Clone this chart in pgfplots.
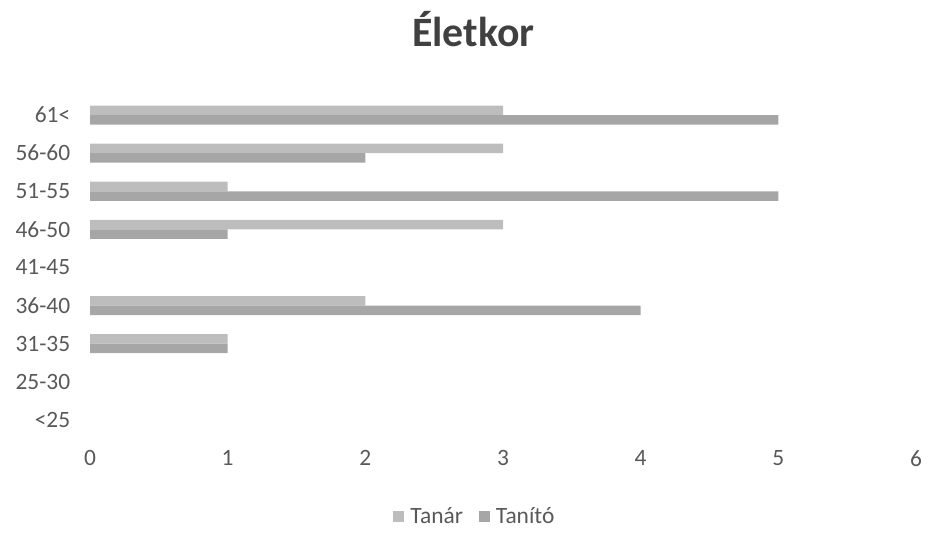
\documentclass[border=0pt]{standalone}
\usepackage{fontspec}
\setmainfont{Carlito}
\usepackage{pgfplots}
\pgfplotsset{compat=1.18}
\definecolor{tanar}{HTML}{BDBDBD}
\definecolor{tanito}{HTML}{A6A6A6}
\definecolor{lbl}{HTML}{595959}
\definecolor{ttl}{HTML}{404040}
\begin{document}
\begin{tikzpicture}
\path[use as bounding box] (0,0) rectangle (928bp,533bp);
\begin{axis}[
  at={(90bp,94bp)}, anchor=south west,
  scale only axis,
  width=826bp, height=343bp,
  xbar, bar width=0.25,
  xmin=0, xmax=6,
  ymin=-0.5, ymax=8.5,
  xtick={0,1,2,3,4,5,6},
  ytick={0,1,2,3,4,5,6,7,8},
  yticklabels={{<25},{25-30},{31-35},{36-40},{41-45},{46-50},{51-55},{56-60},{61<}},
  axis line style={draw=none},
  tick style={draw=none},
  /pgf/number format/assume math mode=true,
  ticklabel style={font=\fontsize{23.5}{27}\selectfont, text=lbl},
  yticklabel style={xshift=-12bp},
  xticklabel style={yshift=-8bp},
  title={Életkor},
  title style={at={(0.464,1.178)}, anchor=center, font=\bfseries\fontsize{42}{48}\selectfont, text=ttl},
  legend columns=2,
  legend style={at={(0.466,-0.225)}, anchor=center, draw=none,
    font=\fontsize{23.5}{27}\selectfont, text=lbl,
    /tikz/every even column/.append style={column sep=14bp}},
  legend image code/.code={\fill[#1] (0bp,-5.5bp) rectangle (11bp,5.5bp); \path (15bp,0bp);},
]
\addplot[fill=tanar, draw=none, bar shift=0.125] coordinates {
  (1,2) (2,3) (3,5) (1,6) (3,7) (3,8)
};
\addlegendentry{Tanár}
\addplot[fill=tanito, draw=none, bar shift=-0.125] coordinates {
  (1,2) (4,3) (1,5) (5,6) (2,7) (5,8)
};
\addlegendentry{Tanító}
\end{axis}
\end{tikzpicture}
\end{document}
